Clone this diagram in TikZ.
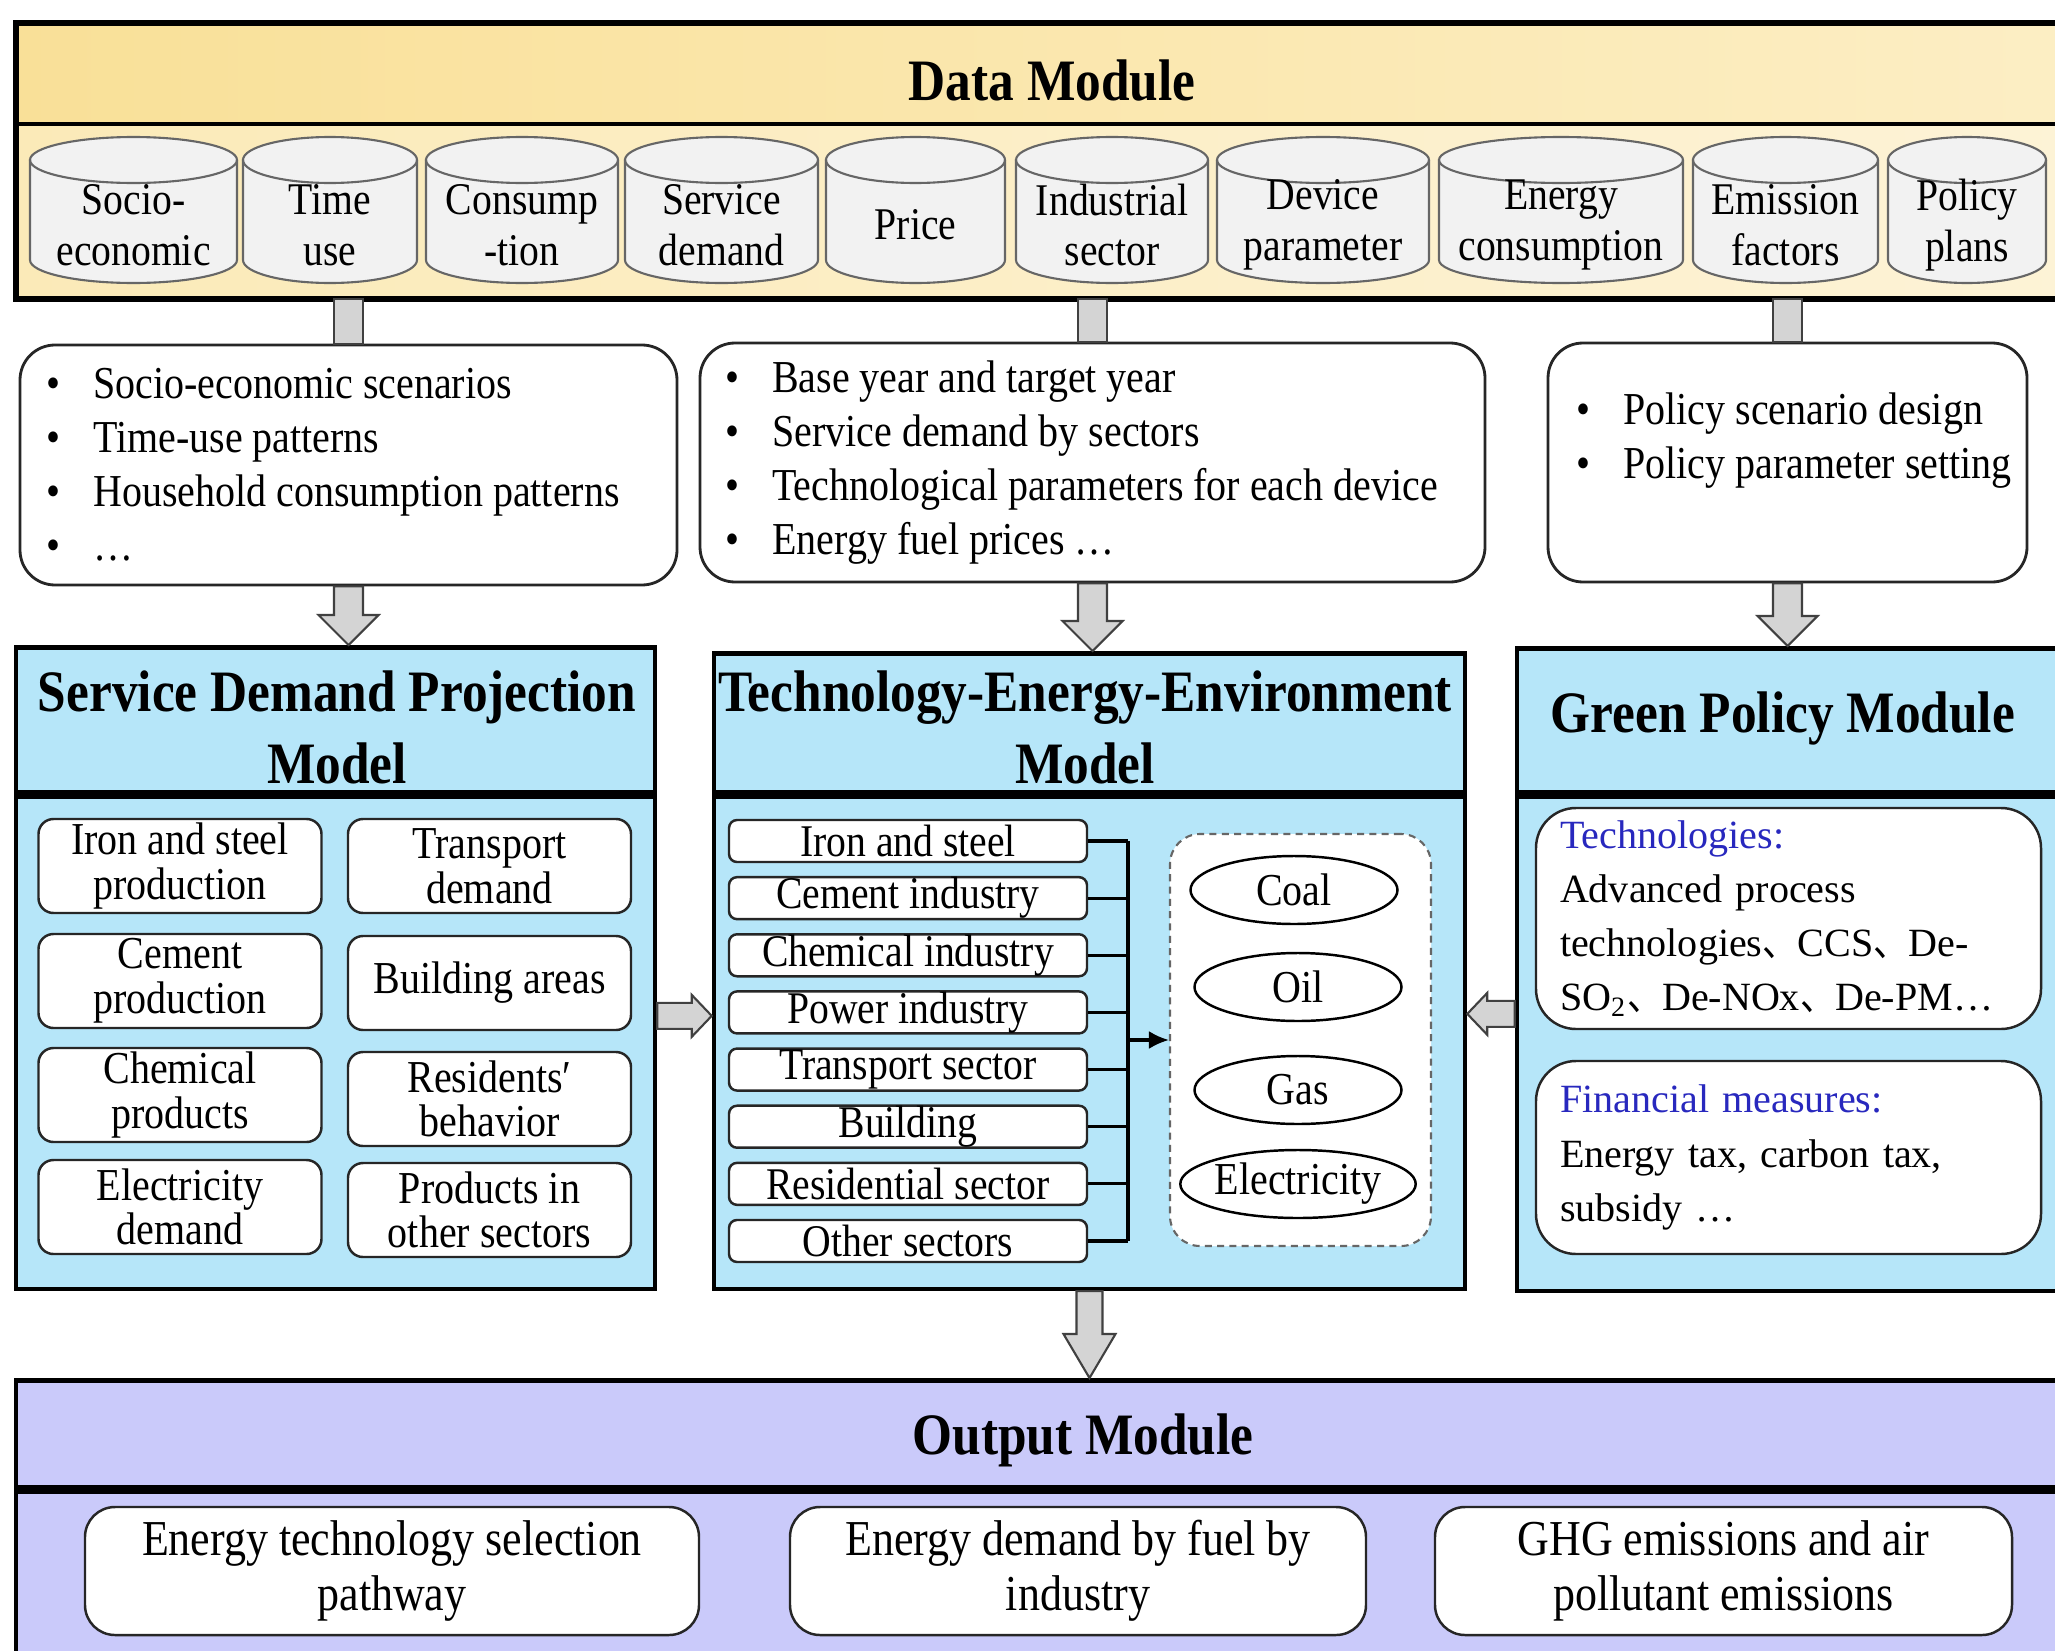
\documentclass[tikz,border=0pt]{standalone}
\usepackage{fontspec}
\setmainfont[FakeStretch=0.875]{Liberation Serif}
\newfontfamily\plainserif{Liberation Serif}
\newfontfamily\cjk[FakeStretch=0.875]{Noto Sans CJK SC}
\usetikzlibrary{calc,positioning,shapes.geometric,arrows.meta}

\definecolor{headyellow}{RGB}{249,224,152}
\definecolor{headyellowlight}{RGB}{252,238,196}
\definecolor{rowyellow}{RGB}{251,234,184}
\definecolor{rowyellowlight}{RGB}{253,243,214}
\definecolor{modblue}{RGB}{182,230,249}
\definecolor{outlilac}{RGB}{202,202,250}
\definecolor{cylgray}{RGB}{242,242,242}
\definecolor{arrowgray}{RGB}{212,212,212}
\definecolor{labelblue}{RGB}{40,40,190}

\newcommand{\bul}{\makebox[4.7mm][l]{\textbullet}}

\tikzset{
  module/.style={draw=black, line width=1.3pt, inner sep=0pt, fill=modblue},
  modtitle/.style={font=\fontsize{16.7}{19}\selectfont\bfseries, align=center, inner sep=0pt},
  cyl/.style={draw=black!60, line width=0.6pt, fill=cylgray},
  cyltext/.style={align=center, inner sep=0pt, font=\fontsize{12.9}{14.5}\selectfont},
  listbox/.style={draw=black!85, line width=0.8pt, rounded corners=3.5mm, fill=white, inner sep=0pt},
  listtext/.style={font=\fontsize{13}{15.4}\selectfont, align=left, anchor=west, inner sep=0pt},
  demandbox/.style={draw=black!85, line width=0.7pt, rounded corners=1.5mm, fill=white,
    minimum width=2.83cm, minimum height=0.94cm, inner sep=0pt, align=center,
    font=\fontsize{13}{12.7}\selectfont},
  sectorbox/.style={draw=black!85, line width=0.7pt, rounded corners=0.8mm, fill=white,
    minimum width=3.58cm, minimum height=0.42cm, inner sep=0pt, font=\fontsize{12.9}{12}\selectfont},
  fuel/.style={ellipse, draw=black, line width=0.7pt, fill=white, minimum width=2.07cm,
    minimum height=0.68cm, inner sep=0pt, font=\fontsize{13}{12}\selectfont},
  wire/.style={draw=black, line width=0.9pt},
  policybox/.style={draw=black!85, line width=0.7pt, rounded corners=4mm, fill=white,
    inner xsep=2.4mm, text width=4.57cm, align=left, font=\plainserif\fontsize{11.4}{15.4}\selectfont},
  outbox/.style={draw=black!85, line width=0.7pt, rounded corners=3mm, fill=white,
    minimum height=1.28cm, inner sep=0pt, align=center, font=\fontsize{14.3}{15.7}\selectfont},
  % block arrow: shaft half width, head half width, head length
  fatarrow/.style n args={3}{draw=black!75, fill=arrowgray, line width=0.6pt, to path={
    let \p1=(\tikztostart), \p2=(\tikztotarget), \n1={atan2(\y2-(\y1),\x2-(\x1))} in
    ([shift={(\n1+90:#1)}]\x1,\y1)
    -- ([shift={(\n1:-#3)},shift={(\n1+90:#1)}]\x2,\y2)
    -- ([shift={(\n1:-#3)},shift={(\n1+90:#2)}]\x2,\y2)
    -- (\x2,\y2)
    -- ([shift={(\n1:-#3)},shift={(\n1-90:#2)}]\x2,\y2)
    -- ([shift={(\n1:-#3)},shift={(\n1-90:#1)}]\x2,\y2)
    -- ([shift={(\n1-90:#1)}]\x1,\y1) -- cycle}},
  fatbar/.style={fatarrow={1.45mm}{1.45mm}{0mm}},
  bigarrow/.style={fatarrow={1.45mm}{3mm}{3mm}},
  sidearrow/.style={fatarrow={1.3mm}{2.1mm}{2mm}},
  outarrow/.style={fatarrow={1.3mm}{2.6mm}{4.4mm}},
}

\begin{document}
\begin{tikzpicture}
\useasboundingbox (0,0) rectangle (20.55,-16.51);

% Data module
\node[inner sep=0pt, anchor=north west, minimum width=20.59cm, minimum height=1.00cm,
  left color=headyellow, right color=headyellowlight] (datahead) at (0.16,-0.23) {};
\node[inner sep=0pt, anchor=north west, minimum width=20.59cm, minimum height=1.73cm,
  left color=rowyellow, right color=rowyellowlight] (datamod) at (datahead.south west) {};
\draw[line width=1.7pt] (datahead.north west) rectangle (datamod.south east);
\draw[line width=1.1pt] (datahead.south west) -- (datahead.south east);
\node[modtitle] (datatitle) at (10.52,-0.80) {Data Module};

% databases
\foreach \xa/\xb/\lbl [count=\i] in {0.30/2.37/{Socio-\\economic}, 2.43/4.17/{Time\\use},
    4.26/6.18/{Consump\\-tion}, 6.25/8.18/{Service\\demand}, 8.26/10.05/Price,
    10.16/12.08/{Industrial\\sector}, 12.17/14.29/{Device\\parameter},
    14.39/16.83/{Energy\\consumption}, 16.93/18.78/{Emission\\factors}, 18.88/20.46/{Policy\\plans}}
{
  \pgfmathsetmacro\rx{(\xb-\xa)/2}
  \draw[cyl] (\xa,-1.60) -- (\xa,-2.60) arc[start angle=180, end angle=360, x radius=\rx, y radius=0.23]
    -- (\xb,-1.60) arc[start angle=0, end angle=180, x radius=\rx, y radius=0.23] -- cycle;
  \draw[cyl, fill=none] (\xa,-1.60) arc[start angle=180, end angle=360, x radius=\rx, y radius=0.23];
  \node[cyltext] (db\i) at ({(\xa+\xb)/2},-2.25) {\lbl};
}

% input lists
\node[listbox, minimum width=6.57cm, minimum height=2.40cm] (inL) at (3.485,-4.65) {};
\node[listtext] (listL) at ([xshift=2.7mm]inL.west)
  {\bul Socio-economic scenarios\\\bul Time-use patterns\\\bul Household consumption patterns\\\bul …};
\node[listbox, minimum width=7.85cm, minimum height=2.39cm] (inM) at (10.925,-4.625) {};
\node[listtext] (listM) at ([xshift=2.6mm]inM.west)
  {\bul Base year and target year\\\bul Service demand by sectors\\
   \bul Technological parameters for each device\\\bul Energy fuel prices …};
\node[listbox, minimum width=4.79cm, minimum height=2.39cm] (inR) at (17.875,-4.625) {};
\node[listtext] (listR) at ([xshift=2.9mm, yshift=2.2mm]inR.west)
  {\bul Policy scenario design\\\bul Policy parameter setting};

% Service demand projection model
\node[module, minimum width=6.39cm, minimum height=1.45cm, anchor=north] (sdpmhead) at (3.355,-6.45) {};
\node[module, minimum width=6.39cm, minimum height=4.92cm, below=0pt of sdpmhead] (sdpm) {};
\node[modtitle] (sdpmtitle) at (3.37,-7.27) {Service Demand Projection\\[1.5pt]Model};
\node[demandbox] (sd1) at (1.80,-8.66) {Iron and steel\\production};
\node[demandbox] (sd2) at (1.80,-9.81) {Cement\\production};
\node[demandbox] (sd3) at (1.80,-10.95) {Chemical\\products};
\node[demandbox] (sd4) at (1.80,-12.07) {Electricity\\demand};
\node[demandbox] (sd5) at (4.895,-8.66) {Transport\\demand};
\node[demandbox] (sd6) at (4.895,-9.83) {Building areas};
\node[demandbox] (sd7) at (4.895,-10.99) {Residents′\\behavior};
\node[demandbox] (sd8) at (4.895,-12.10) {Products in\\other sectors};

% Technology-energy-environment model
\node[module, minimum width=7.51cm, minimum height=1.39cm, anchor=north] (teemhead) at (10.895,-6.51) {};
\node[module, minimum width=7.51cm, minimum height=4.92cm, below=0pt of teemhead] (teem) {};
\node[modtitle] (teemtitle) at (10.85,-7.27) {Technology-Energy-Environment\\[1.5pt]Model};
\foreach \lbl [count=\i] in {Iron and steel, Cement industry, Chemical industry, Power industry,
    Transport sector, Building, Residential sector, Other sectors}
  \node[sectorbox] (sec\i) at (9.08,{-8.41-0.5714*(\i-1)}) {\lbl};
\node[draw=black!60, line width=0.6pt, dash pattern=on 2pt off 1.5pt, rounded corners=3mm, fill=white,
  minimum width=2.61cm, minimum height=4.12cm] (fuelbox) at (13.005,-10.40) {};
\node[fuel] (coal) at (12.94,-8.90) {Coal};
\node[fuel] (oil) at (12.98,-9.87) {Oil};
\node[fuel] (gas) at (12.98,-10.90) {Gas};
\node[fuel] (elec) at (12.98,-11.84) {Electricity};

% sectors feed the fuel box
\coordinate (bus) at (11.28,-10.39);
\foreach \i in {1,...,8}
  \draw[wire] (sec\i.east) -- (sec\i.east -| bus);
\draw[wire] (sec1.east -| bus) -- (sec8.east -| bus);
\draw[wire, -{Latex[length=2mm, width=1.8mm]}] (bus |- fuelbox.west) -- (fuelbox.west);

% Green policy module
\node[module, minimum width=5.58cm, minimum height=1.44cm, anchor=north] (greenhead) at (17.96,-6.46) {};
\node[module, minimum width=5.58cm, minimum height=4.94cm, below=0pt of greenhead] (green) {};
\node[modtitle] (greentitle) at (17.83,-7.18) {Green Policy Module};
\node[policybox, minimum height=2.21cm] (techbox) at (17.885,-9.185)
  {\textcolor{labelblue}{Technologies:}\\Advanced process\\
   technologies{\cjk 、}CCS{\cjk 、}De-\\SO\textsubscript{2}{\cjk 、}De-NOx{\cjk 、}De-PM…};
\node[policybox, minimum height=1.93cm] (finbox) at (17.885,-11.575)
  {\textcolor{labelblue}{Financial measures:}\\Energy tax, carbon tax,\\subsidy …};

% Output module
\node[module, fill=outlilac, minimum width=20.59cm, minimum height=1.07cm, anchor=north] (outhead) at (10.455,-13.78) {};
\node[module, fill=outlilac, minimum width=20.59cm, minimum height=1.63cm, below=0pt of outhead] (outmod) {};
\node[modtitle] (outtitle) at (10.83,-14.40) {Output Module};
\node[outbox, minimum width=6.14cm] (out1) at (3.92,-15.71) {Energy technology selection\\pathway};
\node[outbox, minimum width=5.76cm] (out2) at (10.78,-15.71) {Energy demand by fuel by\\industry};
\node[outbox, minimum width=5.77cm] (out3) at (17.235,-15.71) {GHG emissions and air\\pollutant emissions};

% block arrows
\draw[fatbar] (inL.north |- datamod.south) to (inL.north);
\draw[fatbar] (inM.north |- datamod.south) to (inM.north);
\draw[fatbar] (inR.north |- datamod.south) to (inR.north);
\draw[bigarrow] (inL.south) to (inL.south |- sdpmhead.north);
\draw[bigarrow] (inM.south) to (inM.south |- teemhead.north);
\draw[bigarrow] (inR.south) to (inR.south |- greenhead.north);
\coordinate (sdout) at ([yshift=2.7mm]sdpm.east);
\draw[sidearrow] (sdout) to (sdout -| teem.west);
\coordinate (gpout) at ([yshift=3mm]green.west);
\draw[sidearrow] (gpout) to (gpout -| teem.east);
\draw[outarrow] (teem.south) to (teem.south |- outhead.north);

\end{tikzpicture}
\end{document}
